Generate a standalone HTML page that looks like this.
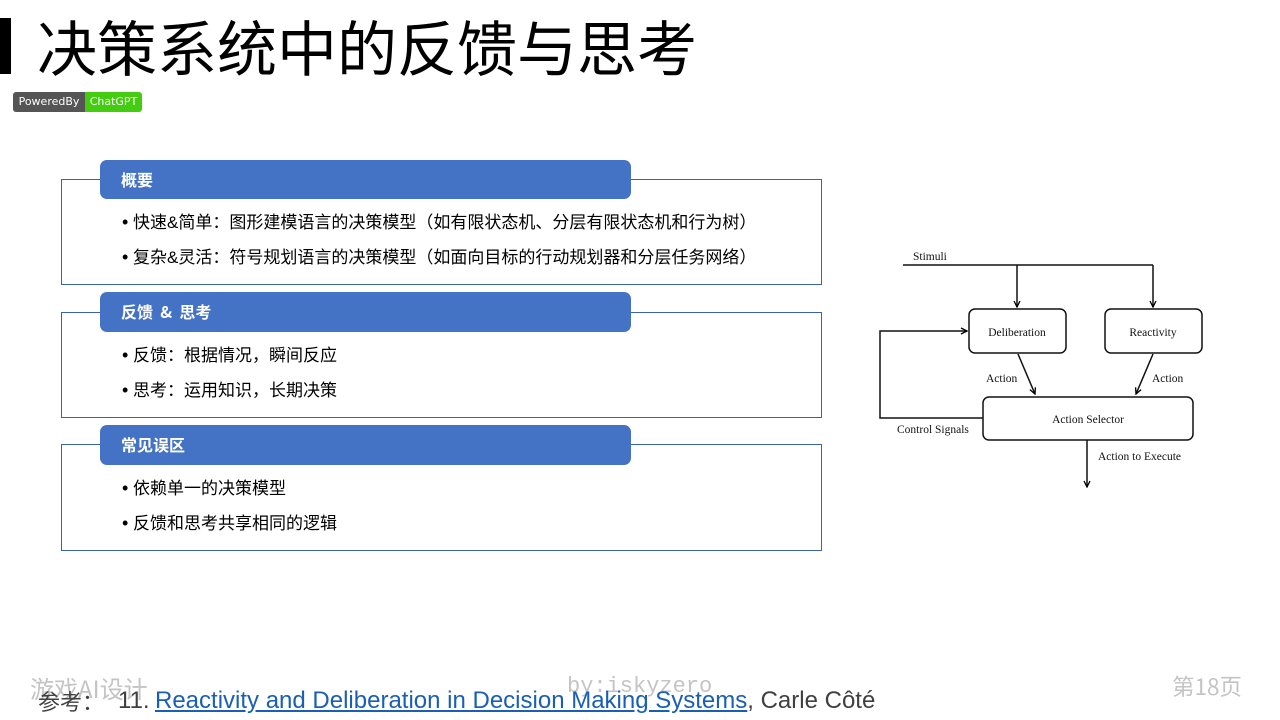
<!DOCTYPE html>
<html><head><meta charset="utf-8"><style>
*{margin:0;padding:0;box-sizing:border-box}
body{width:1280px;height:720px;background:#fff;position:relative;overflow:hidden;font-family:"Liberation Sans","Noto Sans CJK SC",sans-serif}
.abs{position:absolute;white-space:nowrap}
.bar{left:0;top:18px;width:11px;height:56px;background:#000}
.title{left:37px;top:8px;font-size:60px;line-height:76px;color:#000;font-family:"Noto Sans CJK SC","WenQuanYi Zen Hei",sans-serif;letter-spacing:0px}
.badge{left:13px;top:92px;height:20px;width:129px;border-radius:3px;overflow:hidden;font-family:"DejaVu Sans",sans-serif;font-size:11px;line-height:20px;color:#fff}
.badge .a{position:absolute;left:0;top:0;width:72px;height:20px;background:#555;text-align:center}
.badge .b{position:absolute;left:72px;top:0;width:57px;height:20px;background:#4c1;text-align:center}
.outline{border:1px solid #3b64a6;background:#fff}
.hdr{background:#4472C4;border-radius:7px;color:#fff;font-weight:bold;font-size:16px;padding-left:21px;font-family:"Noto Sans CJK SC","Liberation Sans",sans-serif}
.bl{font-size:17px;color:#000;font-family:"Liberation Sans","Noto Sans CJK SC",sans-serif;line-height:20px}
.bl .d{display:inline-block;width:11px;font-size:18px}
.foot{font-size:22px;line-height:26px}
</style></head><body>
<div class="abs bar"></div>
<div class="abs title">决策系统中的反馈与思考</div>
<div class="abs badge"><div class="a">PoweredBy</div><div class="b">ChatGPT</div></div>

<!-- box 1 -->
<div class="abs outline" style="left:61px;top:179px;width:761px;height:106px"></div>
<div class="abs hdr" style="left:100px;top:160px;width:531px;height:39px;line-height:38px">概要</div>
<div class="abs bl" style="left:122px;top:212px"><span class="d">•</span>快速&amp;简单：图形建模语言的决策模型（如有限状态机、分层有限状态机和行为树）</div>
<div class="abs bl" style="left:122px;top:247px"><span class="d">•</span>复杂&amp;灵活：符号规划语言的决策模型（如面向目标的行动规划器和分层任务网络）</div>

<!-- box 2 -->
<div class="abs outline" style="left:61px;top:312px;width:761px;height:106px"></div>
<div class="abs hdr" style="left:100px;top:292px;width:531px;height:40px;line-height:38px">反馈&nbsp;&nbsp;&amp;&nbsp;&nbsp;思考</div>
<div class="abs bl" style="left:122px;top:345px"><span class="d">•</span>反馈：根据情况，瞬间反应</div>
<div class="abs bl" style="left:122px;top:380px"><span class="d">•</span>思考：运用知识，长期决策</div>

<!-- box 3 -->
<div class="abs outline" style="left:61px;top:444px;width:761px;height:107px"></div>
<div class="abs hdr" style="left:100px;top:425px;width:531px;height:40px;line-height:38px">常见误区</div>
<div class="abs bl" style="left:122px;top:478px"><span class="d">•</span>依赖单一的决策模型</div>
<div class="abs bl" style="left:122px;top:513px"><span class="d">•</span>反馈和思考共享相同的逻辑</div>

<!-- diagram -->
<svg class="abs" style="left:0;top:0" width="1280" height="720" viewBox="0 0 1280 720">
<defs>
<marker id="ar" markerWidth="8" markerHeight="8" refX="7" refY="4" orient="auto" markerUnits="userSpaceOnUse">
<path d="M1,1 L7,4 L1,7" fill="none" stroke="#000" stroke-width="1.3"/>
</marker>
</defs>
<g fill="none" stroke="#111" stroke-width="1.5">
<path d="M903,265 H1153"/>
<path d="M1017,265 V307" marker-end="url(#ar)"/>
<path d="M1153,265 V307" marker-end="url(#ar)"/>
<rect x="969" y="309" width="97" height="44" rx="6"/>
<rect x="1105" y="309" width="97" height="44" rx="6"/>
<path d="M1018,354 L1035,394" marker-end="url(#ar)"/>
<path d="M1153,354 L1136,394" marker-end="url(#ar)"/>
<rect x="983" y="397" width="210" height="43" rx="6"/>
<path d="M983,418 H880 V331 H967" marker-end="url(#ar)"/>
<path d="M1087,440 V487" marker-end="url(#ar)"/>
</g>
<g font-family="Liberation Serif, serif" font-size="11.5" fill="#111">
<text x="913" y="260">Stimuli</text>
<text x="1017" y="336" text-anchor="middle">Deliberation</text>
<text x="1153" y="336" text-anchor="middle">Reactivity</text>
<text x="986" y="382">Action</text>
<text x="1152" y="382">Action</text>
<text x="1088" y="423" text-anchor="middle">Action Selector</text>
<text x="897" y="433">Control Signals</text>
<text x="1098" y="460">Action to Execute</text>
</g>
</svg>

<!-- footer -->
<div class="abs foot" style="left:30px;top:674px;color:#c4c4c4;font-family:'Noto Sans CJK SC',sans-serif;font-size:24px;line-height:28px">游戏AI设计</div>
<div class="abs foot" style="left:567px;top:674px;color:#c4c4c4;font-family:'Liberation Mono',monospace">by:iskyzero</div>
<div class="abs foot" style="left:1172px;top:673px;color:#c4c4c4;font-family:'Noto Sans CJK SC',sans-serif;font-size:22.5px">第18页</div>
<div class="abs foot" style="left:38px;top:688px;color:#404040;font-family:'Noto Sans CJK SC',sans-serif;font-size:22px">参考：</div>
<div class="abs foot" style="left:118px;top:687px;color:#404040;font-size:24px;line-height:28px">11.</div>
<div class="abs foot" style="left:155px;top:687px;color:#404040;font-size:24px;line-height:28px"><span style="color:#1a5fb4;text-decoration:underline">Reactivity and Deliberation in Decision Making Systems</span>, Carle Côté</div>
</body></html>
